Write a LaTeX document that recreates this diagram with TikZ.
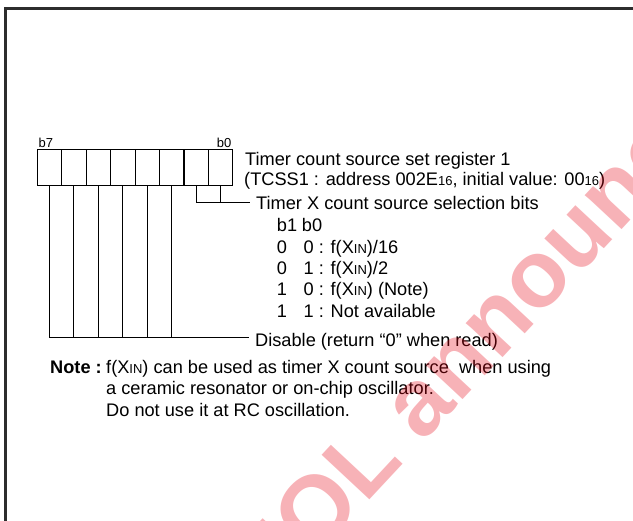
\documentclass[tikz,border=0pt]{standalone}
\usepackage{fontspec}
\setmainfont{Liberation Sans}
\definecolor{wmred}{RGB}{230,0,18}
\definecolor{framegray}{RGB}{45,45,45}
\newcommand\regsub[1]{{\fontsize{13}{13}\selectfont #1}}
\begin{document}
\begin{tikzpicture}[x=1pt,y=-1pt,
  txt/.style={anchor=base west,inner sep=0pt,font=\fontsize{18.2}{21.3}\selectfont},
  lbl/.style={inner sep=0pt,font=\fontsize{13}{13}\selectfont},
  cell/.style={draw,line width=1.1pt,minimum width=24.45pt,minimum height=35.5pt,inner sep=0pt,anchor=north west},
  wire/.style={line width=0.9pt}]
\useasboundingbox (0,0) rectangle (633,521);
% outer frame
\begin{scope}
\clip (0,0) rectangle (633,521);
\draw[line width=2.6pt,framegray] (5.3,8.7) rectangle (660,560);
\end{scope}
% register cells (bit 7 left ... bit 0 right)
\foreach \k in {7,...,0} {
  \node[cell] (r\k) at ({36.7+24.45*(7-\k)},149.3) {};
}
\node[lbl,anchor=base west] (l7) at (38.5,147.8) {b7};
\node[lbl,anchor=base east] (l0) at (231.5,147.8) {b0};
% connectors
\coordinate (selend) at (250,202);
\coordinate (disend) at (249,337);
\draw[wire] (r1.south) |- (selend);
\draw[wire] (r0.south) -- (r0.south |- selend);
\draw[wire] (r7.south) |- (disend);
\foreach \k in {6,...,2} {
  \draw[wire] (r\k.south) -- (r\k.south |- disend);
}
% texts
\node[txt] (title) at (245,166) {Timer count source set register 1};
\node[txt] (addr) at (244,186) {(TCSS1 : address 002E\regsub{16}, initial value: 00\regsub{16})};
\node[txt] (sel) at (256,210) {Timer X count source selection bits};
\node[txt] (h1) at (276.7,231.7) {b1};
\node[txt] (h0) at (301.7,231.7) {b0};
\node[txt] (a1) at (276.7,253.3) {0};
\node[txt] (a0) at (303.5,253.3) {0 : f(X\regsub{IN})/16};
\node[txt] (b1) at (276.7,274.6) {0};
\node[txt] (b0) at (303.5,274.6) {1 : f(X\regsub{IN})/2};
\node[txt] (c1) at (276.7,295.9) {1};
\node[txt] (c0) at (303.5,295.9) {0 : f(X\regsub{IN}) (Note)};
\node[txt] (d1) at (276.7,317.2) {1};
\node[txt] (d0) at (303.5,317.2) {1 : Not available};
\node[txt] (dis) at (255,346.7) {Disable (return “0” when read)};
\node[txt,font=\bfseries\fontsize{18.2}{21.3}\selectfont] (note) at (50,373.5) {Note :};
\node[txt] (n1) at (106,373.5) {f(X\regsub{IN}) can be used as timer X count source\ \ when using};
\node[txt] (n2) at (106,395) {a ceramic resonator or on-chip oscillator.};
\node[txt] (n3) at (106,416.5) {Do not use it at RC oscillation.};
% watermark
\begin{scope}
\clip (0,0) rectangle (633,521);
\node[rotate=47,anchor=base west,inner sep=0pt,text=wmred,opacity=0.3,font=\bfseries\fontsize{95}{95}\selectfont] (wm) at (271.4,605.4) {EOL announced};
\end{scope}
\end{tikzpicture}
\end{document}
